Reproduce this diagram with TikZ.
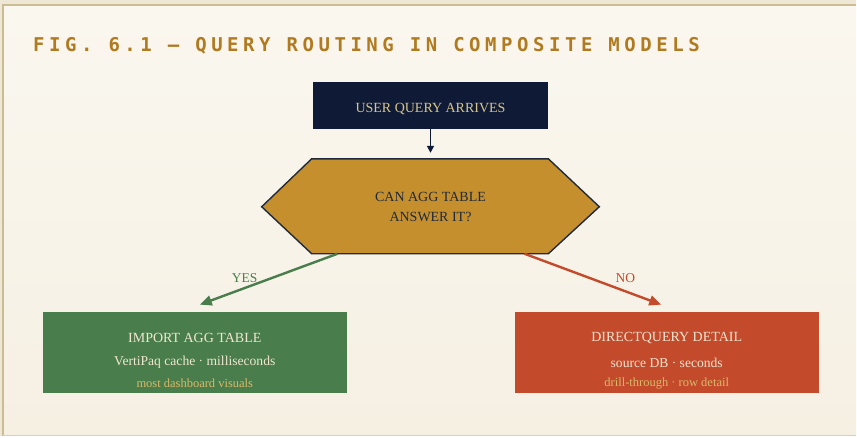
\documentclass[tikz,border=0pt]{standalone}
\usepackage{fontspec}
\setmainfont{Liberation Serif}
\newfontfamily\titlefont[LetterSpace=24]{DejaVu Sans Mono Bold}
\usetikzlibrary{arrows.meta,shapes.geometric}
\definecolor{pagebg}{HTML}{EFE7D6}
\definecolor{paneltop}{HTML}{FAF7EF}
\definecolor{panelbot}{HTML}{F6F0E3}
\definecolor{framec}{HTML}{CBBC93}
\definecolor{navy}{HTML}{0F1A36}
\definecolor{ochre}{HTML}{C68F2E}
\definecolor{titlec}{HTML}{B07A1F}
\definecolor{gold}{HTML}{D8C58A}
\definecolor{leaf}{HTML}{4A7D4C}
\definecolor{rust}{HTML}{C44A2C}
\definecolor{cream}{HTML}{EFE6D0}
\definecolor{softgold}{HTML}{D9B968}
\definecolor{inkc}{HTML}{1F2A3A}
\tikzset{
  main/.style={font=\fontsize{14}{16}\selectfont},
  sub/.style={font=\fontsize{13.6}{15}\selectfont, text=cream},
  note/.style={font=\fontsize{12.5}{14}\selectfont, text=softgold},
}
\begin{document}
\begin{tikzpicture}[x=1pt,y=-1pt]
  % page and panel
  \fill[pagebg] (0,0) rectangle (857,437);
  \shade[top color=paneltop, bottom color=panelbot] (3,5) rectangle (857,435);
  \draw[framec, line width=2pt] (3,437) -- (3,5) -- (857,5);
  \draw[framec!70, line width=1pt] (3,436) -- (857,436);
  \useasboundingbox (0,0) rectangle (857,437);

  % title
  \node[anchor=base west, inner sep=0pt, text=titlec, font=\titlefont\fontsize{19}{21}\selectfont]
    (title) at (33,52) {FIG. 6.1 — QUERY ROUTING IN COMPOSITE MODELS};

  % start box
  \node[fill=navy, minimum width=236pt, minimum height=47pt, inner sep=0pt] (start) at (431,105.5) {};
  \node[text=gold, main] (startlabel) at (431,109.5) {USER QUERY ARRIVES};

  % decision hexagon
  \coordinate (h1) at (312,159);
  \coordinate (h2) at (549,159);
  \coordinate (h3) at (600,207);
  \coordinate (h4) at (549,254);
  \coordinate (h5) at (312,254);
  \coordinate (h6) at (262,207);
  \filldraw[fill=ochre, draw=inkc, line width=1.4pt, line join=miter]
    (h1) -- (h2) -- (h3) -- (h4) -- (h5) -- (h6) -- cycle;
  \node[text=inkc, align=center, font=\fontsize{14}{20}\selectfont] (decide) at (431,207)
    {CAN AGG TABLE\\ANSWER IT?};
  \coordinate (dtop) at (431,153);
  \coordinate (dleft) at (338,254);
  \coordinate (dright) at (525,254);

  % outcome boxes
  \node[fill=leaf, minimum width=304pt, minimum height=81pt, inner sep=0pt] (imp) at (195,352.5) {};
  \node[text=cream, main] at (195,338.5) {IMPORT AGG TABLE};
  \node[sub] at (195,363) {VertiPaq cache · milliseconds};
  \node[note] at (195,383.5) {most dashboard visuals};

  \node[fill=rust, minimum width=304pt, minimum height=81pt, inner sep=0pt] (dq) at (667.5,352.5) {};
  \node[text=cream, main] at (667.5,338.5) {DIRECTQUERY DETAIL};
  \node[sub] at (667.5,363) {source DB · seconds};
  \node[note] at (667.5,383.5) {drill-through · row detail};

  \coordinate (impin) at (200,305);
  \coordinate (dqin) at (662,305);

  % connectors
  \draw[navy, line width=1.6pt, -{Triangle[length=7pt,width=7pt]}]
    (start.south) -- (dtop);
  \draw[leaf, line width=2.4pt, -{Triangle[length=12pt,width=10pt]}]
    (dleft) -- (impin);
  \draw[rust, line width=2.4pt, -{Triangle[length=12pt,width=10pt]}]
    (dright) -- (dqin);
  \node[text=leaf, font=\fontsize{13.5}{15}\selectfont] (yes) at (245,278) {YES};
  \node[text=rust, font=\fontsize{13.5}{15}\selectfont] (no) at (626,278) {NO};
\end{tikzpicture}
\end{document}
